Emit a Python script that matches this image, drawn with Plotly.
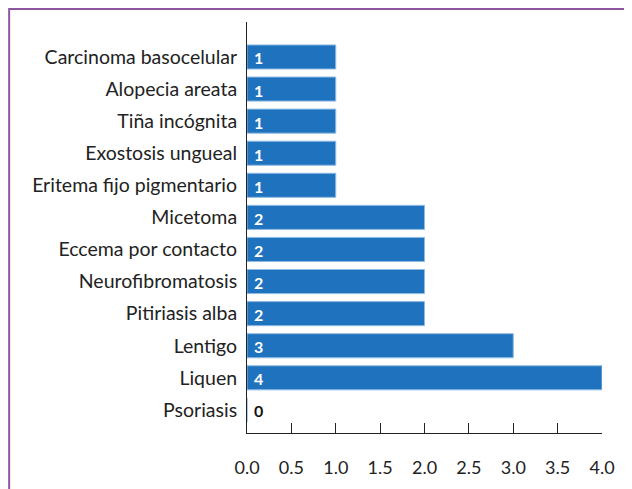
import plotly.graph_objects as go

categories = ["Psoriasis", "Liquen", "Lentigo", "Pitiriasis alba", "Neurofibromatosis",
              "Eccema por contacto", "Micetoma", "Eritema fijo pigmentario",
              "Exostosis ungueal", "Tiña incógnita", "Alopecia areata",
              "Carcinoma basocelular"]
values = [0, 4, 3, 2, 2, 2, 2, 1, 1, 1, 1, 1]
x_ticks = [0, 0.5, 1, 1.5, 2, 2.5, 3, 3.5, 4]
x_ticktext = ["0.0", "0.5", "1.0", "1.5", "2.0", "2.5", "3.0", "3.5", "4.0"]

FONT = "Lato, 'Open Sans', sans-serif"

fig = go.Figure()
fig.add_trace(go.Bar(
    y=categories, x=values, orientation="h",
    marker=dict(color="#1f72bd", line=dict(color="#8fbbe3", width=1)),
    hoverinfo="skip",
))

annotations = []
for c, v in zip(categories, values):
    annotations.append(dict(
        x=0, y=c, xref="x", yref="y", text=f"<b>{v}</b>", showarrow=False,
        xanchor="left", xshift=5, yshift=-1,
        font=dict(family=FONT, size=16, color="white" if v > 0 else "#111111"),
    ))

fig.update_layout(
    width=624, height=481,
    margin=dict(l=239, r=30, t=14, b=56),
    paper_bgcolor="white", plot_bgcolor="white",
    bargap=0.25,
    showlegend=False,
    font=dict(family=FONT, size=19, color="#222222"),
    annotations=annotations,
    shapes=[dict(type="rect", xref="paper", yref="paper",
                 x0=-0.670, x1=1.3, y0=-0.3, y1=1.0316,
                 line=dict(color="#8e56a0", width=2), layer="below")],
    xaxis=dict(
        range=[0, 4], tickmode="array", tickvals=x_ticks, ticktext=x_ticktext,
        showgrid=False, zeroline=False, showline=True, linecolor="#222222", linewidth=1,
        ticks="inside", ticklen=10, tickcolor="#222222",
        ticklabelstandoff=18,
        tickfont=dict(family=FONT, size=18, color="#222222"),
    ),
    yaxis=dict(
        type="category", categoryorder="array", categoryarray=categories,
        range=[-0.72, 12.09],
        showgrid=False, zeroline=False, showline=True, linecolor="#222222", linewidth=1,
        ticks="", ticklabelstandoff=5,
        tickfont=dict(family=FONT, size=19.5, color="#222222"),
    ),
)

fig.write_html("out.html")
